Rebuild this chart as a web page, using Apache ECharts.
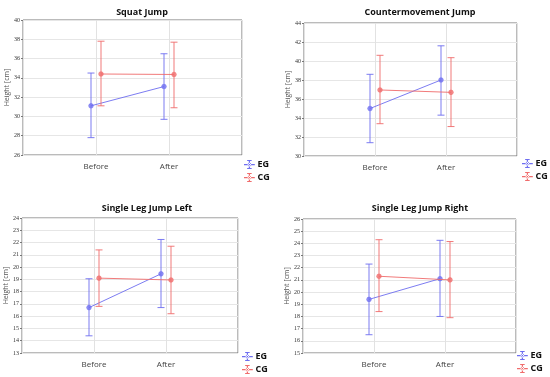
<!DOCTYPE html>
<html><head><meta charset="utf-8">
<script src="https://cdn.jsdelivr.net/npm/echarts@6/dist/echarts.min.js"></script>
<style>html,body{margin:0;padding:0;background:#fff}#c{width:550px;height:377px}</style>
</head><body><div id="c"></div>
<script>
const categories = ['Before', 'After'];
const groups = ['EG', 'CG'];
const titles = ['Squat Jump', 'Countermovement Jump', 'Single Leg Jump Left', 'Single Leg Jump Right'];
const yLabel = 'Height [cm]';
const yMins = [26, 30, 13, 15];
const yMaxs = [40, 44, 24, 26];
const ySteps = [2, 2, 1, 1];

const sjEGMean = [31.1, 33.1],  sjEGLow = [27.8, 29.7],  sjEGHigh = [34.5, 36.5];
const sjCGMean = [34.4, 34.35], sjCGLow = [31.1, 30.9],  sjCGHigh = [37.8, 37.7];
const cmjEGMean = [35.0, 38.0], cmjEGLow = [31.4, 34.3], cmjEGHigh = [38.6, 41.6];
const cmjCGMean = [36.95, 36.7], cmjCGLow = [33.4, 33.1], cmjCGHigh = [40.6, 40.35];
const sljlEGMean = [16.7, 19.45], sljlEGLow = [14.4, 16.7], sljlEGHigh = [19.05, 22.25];
const sljlCGMean = [19.1, 18.95], sljlCGLow = [16.8, 16.2], sljlCGHigh = [21.4, 21.7];
const sljrEGMean = [19.4, 21.1], sljrEGLow = [16.5, 18.0], sljrEGHigh = [22.3, 24.25];
const sljrCGMean = [21.3, 21.0], sljrCGLow = [18.4, 17.9], sljrCGHigh = [24.3, 24.15];

const panels = [
  {EG: [sjEGMean, sjEGLow, sjEGHigh], CG: [sjCGMean, sjCGLow, sjCGHigh]},
  {EG: [cmjEGMean, cmjEGLow, cmjEGHigh], CG: [cmjCGMean, cmjCGLow, cmjCGHigh]},
  {EG: [sljlEGMean, sljlEGLow, sljlEGHigh], CG: [sljlCGMean, sljlCGLow, sljlCGHigh]},
  {EG: [sljrEGMean, sljrEGLow, sljrEGHigh], CG: [sljrCGMean, sljrCGLow, sljrCGHigh]}
];

const colors = {EG: '#6e6ef0', CG: '#f06c6c'};
const pxOffset = {EG: -5, CG: 5};
const xCats = [''].concat(categories, ['']);

const grids = [
  {left: 23, right: 308, top: 20, bottom: 222},
  {left: 304, right: 33, top: 23, bottom: 221},
  {left: 22, right: 312, top: 218, bottom: 24},
  {left: 303, right: 34, top: 219, bottom: 24}
];
const titlePos = [[137, 3], [415, 3], [142, 199], [415, 199]];
const legendPos = [[244, 160], [522, 159], [242, 352], [517, 351]];

const legendIcon = 'path://M0,4.4h12v1.4h-12z M5.3,0h1.4v10h-1.4z M3.5,0h5v1.2h-5z M3.5,8.8h5v1.2h-5z M4,5.1a2,2 0 1,0 4,0a2,2 0 1,0 -4,0z';

const option = {
  animation: false,
  title: titles.map((t, i) => ({
    text: t, left: titlePos[i][0], top: titlePos[i][1], textAlign: 'center',
    textStyle: {fontFamily: 'Open Sans', fontWeight: 'bold', fontSize: 9, color: '#111'}
  })),
  legend: legendPos.map((p, i) => ({
    data: groups, left: p[0], top: p[1], orient: 'vertical', itemGap: 4, padding: 0,
    width: 30, height: 26,
    itemWidth: 12, itemHeight: 9, icon: legendIcon, selectedMode: false,
    textStyle: {fontFamily: 'Open Sans', fontWeight: 'bold', fontSize: 9, color: '#111', padding: [0, 0, 0, -3]}
  })),
  grid: grids.map(g => Object.assign({show: true, borderColor: '#777', borderWidth: 1, backgroundColor: 'transparent'}, g)),
  xAxis: grids.map((g, i) => ({
    type: 'category', gridIndex: i, data: xCats, boundaryGap: false,
    axisLine: {show: false}, axisTick: {show: false},
    axisLabel: {fontFamily: 'Open Sans', fontSize: 8, color: '#444', margin: 8, interval: 0},
    splitLine: {show: true, lineStyle: {color: '#e2e2e2', width: 1}}
  })),
  yAxis: grids.map((g, i) => ({
    type: 'value', gridIndex: i, min: yMins[i], max: yMaxs[i], interval: ySteps[i],
    name: yLabel, nameLocation: 'middle', nameGap: 13,
    nameTextStyle: {fontFamily: 'Open Sans', fontSize: 7, color: '#555'},
    axisLine: {show: false}, axisTick: {show: true, length: 2, lineStyle: {color: '#777'}},
    axisLabel: {fontFamily: 'Liberation Serif', fontSize: 6, color: '#333', margin: 3},
    splitLine: {show: true, lineStyle: {color: '#e6e6e6', width: 1}}
  })),
  series: []
};

panels.forEach((p, pi) => {
  groups.forEach(gname => {
    const [mean, low, high] = p[gname];
    const col = colors[gname];
    const off = pxOffset[gname];
    option.series.push({
      type: 'custom', name: gname, xAxisIndex: pi, yAxisIndex: pi,
      itemStyle: {color: col},
      data: categories.map((c, k) => [c, mean[k], low[k], high[k]]),
      encode: {x: 0, y: [1, 2, 3]},
      renderItem: function (params, api) {
        const k = params.dataIndex;
        const xi = xCats.indexOf(categories[k]);
        const pm = api.coord([xi, mean[k]]);
        const pl = api.coord([xi, low[k]]);
        const ph = api.coord([xi, high[k]]);
        const x = pm[0] + off;
        const cw = 3.5;
        const st = {stroke: col, lineWidth: 1, opacity: 0.9};
        const children = [];
        if (k < categories.length - 1) {
          const nxi = xCats.indexOf(categories[k + 1]);
          const pn = api.coord([nxi, mean[k + 1]]);
          children.push({type: 'line', shape: {x1: x, y1: pm[1], x2: pn[0] + off, y2: pn[1]}, style: st});
        }
        children.push({type: 'line', shape: {x1: x, y1: pl[1], x2: x, y2: ph[1]}, style: st});
        children.push({type: 'line', shape: {x1: x - cw, y1: pl[1], x2: x + cw, y2: pl[1]}, style: st});
        children.push({type: 'line', shape: {x1: x - cw, y1: ph[1], x2: x + cw, y2: ph[1]}, style: st});
        children.push({type: 'circle', shape: {cx: x, cy: pm[1], r: 2.3}, style: {fill: col, opacity: 0.75, stroke: col, lineWidth: 0.8}});
        return {type: 'group', children: children};
      }
    });
  });
});

const chart = echarts.init(document.getElementById('c'), null, {renderer: 'canvas'});
chart.setOption(option);
</script>
</body></html>
